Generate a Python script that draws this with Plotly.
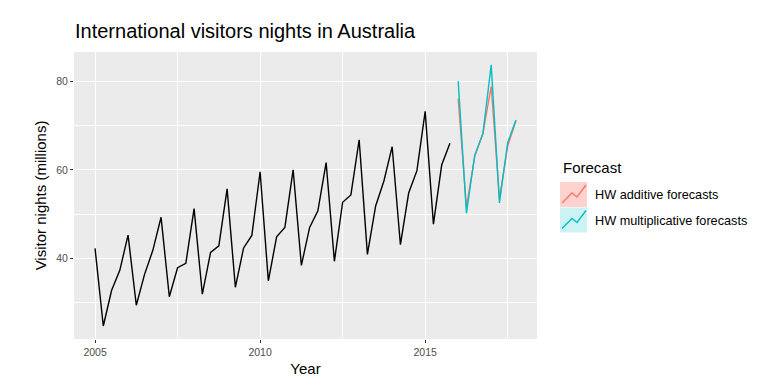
import plotly.graph_objects as go

# Data: quarterly international visitor nights (millions), 2005 Q1 - 2015 Q4
years = list(range(2005, 2016))
visitors = [
    42.21, 24.65, 32.67, 37.26,
    45.24, 29.35, 36.34, 41.78,
    49.28, 31.28, 37.85, 38.84,
    51.24, 31.84, 41.32, 42.80,
    55.71, 33.41, 42.32, 45.16,
    59.58, 34.84, 44.84, 46.97,
    60.02, 38.37, 46.98, 50.73,
    61.65, 39.30, 52.67, 54.33,
    66.83, 40.87, 51.83, 57.49,
    65.25, 43.06, 54.76, 59.83,
    73.26, 47.70, 61.10, 66.06,
]
forecast_years = [2016, 2017]
hw_additive = [76.1, 51.6, 63.0, 68.3, 78.9, 53.5, 65.4, 71.1]
hw_multiplicative = [80.1, 50.2, 63.3, 68.2, 83.8, 52.5, 66.2, 71.3]
series_names = ["HW additive forecasts", "HW multiplicative forecasts"]
x_ticks = [2005, 2010, 2015]
y_ticks = [40, 60, 80]

hist_x = [y + q / 4 for y in years for q in range(4)]
fc_x = [y + q / 4 for y in forecast_years for q in range(4)]

RED = "#F8766D"
CYAN = "#00BFC4"
FONT = "Liberation Sans, Arial, sans-serif"

fig = go.Figure()
fig.add_trace(go.Scatter(x=hist_x, y=visitors, mode="lines",
                         line=dict(color="black", width=1.4), showlegend=False))
fig.add_trace(go.Scatter(x=fc_x, y=hw_additive, mode="lines",
                         line=dict(color=RED, width=1.4), showlegend=False))
fig.add_trace(go.Scatter(x=fc_x, y=hw_multiplicative, mode="lines",
                         line=dict(color=CYAN, width=1.4), showlegend=False))

L, R, T, B = 74, 537, 52, 339
W, H = 780, 387
def px(x):
    return (x - L) / (R - L)
def py(y):
    return (B - y) / (B - T)

shapes = []
annotations = []
# Legend (manual, ggplot-style)
annotations.append(dict(x=px(561), y=py(167), xref="paper", yref="paper",
                        text="Forecast", showarrow=False, xanchor="left", yanchor="middle",
                        font=dict(family=FONT, size=15, color="black")))
for i, (name, col, fill) in enumerate([(series_names[0], RED, "rgba(248,118,109,0.33)"),
                                       (series_names[1], CYAN, "rgba(0,191,196,0.2)")]):
    y0 = 182 + i * 25.5
    shapes.append(dict(type="rect", xref="paper", yref="paper",
                       x0=px(560), x1=px(587), y0=py(y0), y1=py(y0 + 25),
                       fillcolor=fill, line=dict(width=0), layer="above"))
    pts = [(562, y0 + 21), (572, y0 + 11), (577, y0 + 15), (586, y0 + 3)]
    path = "M " + " L ".join(f"{px(a):.5f},{py(b):.5f}" for a, b in pts)
    shapes.append(dict(type="path", xref="paper", yref="paper", path=path,
                       line=dict(color=col, width=1.4), layer="above"))
    annotations.append(dict(x=px(593), y=py(y0 + 13), xref="paper", yref="paper",
                            text=name, showarrow=False, xanchor="left", yanchor="middle",
                            font=dict(family=FONT, size=12.7, color="black")))

fig.update_layout(
    width=W, height=H,
    margin=dict(l=L, r=W - R, t=T, b=H - B, autoexpand=False),
    paper_bgcolor="white", plot_bgcolor="#EBEBEB",
    font=dict(family=FONT),
    title=dict(text="International visitors nights in Australia", xref="container", x=75 / W,
               xanchor="left", yref="container", y=1 - 31 / H, yanchor="middle",
               font=dict(family=FONT, size=20, color="black")),
    shapes=shapes, annotations=annotations, showlegend=False,
)
fig.update_xaxes(
    range=[2004.3625, 2018.3875], tickvals=x_ticks, ticktext=[str(v) for v in x_ticks],
    showgrid=True, gridcolor="white", gridwidth=1.1,
    minor=dict(tickvals=[2007.5, 2012.5, 2017.5], showgrid=True, gridcolor="white", gridwidth=0.5),
    ticks="outside", ticklen=3, tickcolor="#333333", tickwidth=1,
    tickfont=dict(family=FONT, size=10.5, color="#4D4D4D"),
    title=dict(text="Year", font=dict(family=FONT, size=15, color="black"), standoff=6),
    zeroline=False, showline=False, automargin=False,
)
fig.update_yaxes(
    range=[21.7, 86.7], tickvals=y_ticks, ticktext=[str(v) for v in y_ticks],
    showgrid=True, gridcolor="white", gridwidth=1.1,
    minor=dict(tickvals=[30, 50, 70], showgrid=True, gridcolor="white", gridwidth=0.5),
    ticks="outside", ticklen=3, tickcolor="#333333", tickwidth=1,
    tickfont=dict(family=FONT, size=10.5, color="#4D4D4D"),
    title=dict(text="Visitor nights (millions)", font=dict(family=FONT, size=15, color="black"), standoff=5),
    zeroline=False, showline=False, automargin=False,
)
fig.write_html("out.html", config={"displayModeBar": False},
               post_script="document.body.style.margin='0';document.body.style.padding='0';")
